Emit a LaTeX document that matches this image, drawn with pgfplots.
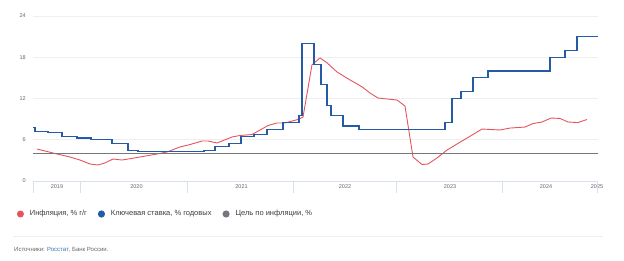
\documentclass[border=0pt]{standalone}
\usepackage{pgfplots}
\pgfplotsset{compat=1.18}
\usepackage{fontspec}
\setmainfont{Liberation Sans}
\definecolor{infl}{RGB}{229,84,93}
\definecolor{inflleg}{RGB}{226,52,63}
\definecolor{keyr}{RGB}{36,90,166}
\definecolor{tgt}{RGB}{116,119,126}
\definecolor{gridc}{RGB}{238,239,242}
\definecolor{sepc}{RGB}{214,224,238}
\definecolor{lblc}{RGB}{102,102,102}
\definecolor{txtc}{RGB}{60,60,60}
\definecolor{linkc}{RGB}{52,116,180}
\begin{document}
\begin{tikzpicture}[x=1pt,y=1pt]
\path (0,0) rectangle (624,260);
\begin{axis}[
  at={(33pt,79pt)}, anchor=south west,
  scale only axis, width=565pt, height=165pt,
  xmin=33, xmax=598, ymin=0, ymax=24,
  axis line style={draw=none},
  major tick length=0pt,
  ytick={0,6,12,18,24},
  yticklabel style={font=\fontsize{5.5}{6}\selectfont, color=lblc, inner sep=0pt, xshift=-7pt},
  /pgf/number format/assume math mode=true,
  xtick={57,136.5,241.5,345,450,546,597},
  xticklabels={2019,2020,2021,2022,2023,2024,2025},
  xticklabel style={font=\fontsize{5.5}{6}\selectfont, color=lblc, inner sep=0pt, yshift=-3pt},
  ymajorgrids, grid style={gridc, line width=0.8pt},
  clip=false,
  legend columns=3,
  legend cell align=left,
  legend style={at={(-0.02832,-0.2)}, anchor=west, draw=none, fill=none,
    inner sep=0pt, outer sep=0pt,
    font=\fontsize{7.5}{8.5}\selectfont, text=txtc,
    nodes={inner sep=0pt},
    /tikz/every odd column/.append style={column sep=6pt},
    /tikz/every even column/.append style={column sep=11pt}},
  legend image code/.code={\fill[#1] (3pt,0pt) circle (3pt);},
]
% bottom axis line and year separators
\draw[sepc, line width=0.8pt] (axis cs:33,0) -- (axis cs:598,0);
\pgfplotsinvokeforeach{33,80,187,293,396,502,597}{
  \draw[sepc, line width=0.7pt] (axis cs:#1,0) -- ++(0pt,-12pt);
}
\addplot[infl, line width=0.9pt, line join=round] coordinates {
(37,4.65)(57,3.93)(70,3.49)(80,3.05)(90,2.47)(98,2.33)(105,2.62)(113,3.2)(122,3.05)
(140,3.49)(157,3.93)(167,4.22)(180,4.95)(190,5.3)(202,5.82)(208,5.82)(217,5.53)
(232,6.4)(240,6.62)(252,6.76)(268,8.07)(277,8.44)(285,8.44)(298,8.95)(303,9.3)
(312,16.9)(320,17.9)(327,17.2)(337,15.85)(350,14.7)(362,13.7)(370,12.8)(378,12.07)
(387,11.93)(397,11.78)(405,10.9)(413,3.49)(422,2.4)(428,2.47)(437,3.35)(447,4.5)
(457,5.38)(467,6.25)(482,7.56)(500,7.42)(510,7.7)(525,7.85)(533,8.36)(542,8.58)
(551,9.16)(560,9.1)(568,8.58)(578,8.5)(587,8.95)
};
\addlegendentry{Инфляция, \% г/г}
\addplot[keyr, line width=1.1pt, const plot, line join=miter] coordinates {
(33,7.75)(35,7.25)(48,7.0)(62,6.5)(77,6.25)(91,6.0)(112,5.5)(128,4.5)(138,4.25)
(204,4.5)(215,5.0)(229,5.5)(241,6.5)(254,6.75)(267,7.5)(283,8.5)(299,9.5)(302,20)
(314,17)(321,14)(327,11)(331,9.5)(343,8)(359,7.5)(445,8.5)(452,12)(461,13)(473,15)
(488,16)(550,18)(565,19)(577,21)(598,21)
};
\addlegendentry{Ключевая ставка, \% годовых}
\addplot[tgt, line width=1.1pt] coordinates {(33,4)(598,4)};
\addlegendentry{Цель по инфляции, \%}
\end{axis}
\draw[gridc, line width=0.7pt] (13,23.3) -- (603,23.3);
\node[anchor=west, inner sep=0pt, font=\fontsize{6}{7}\selectfont, text=lblc] at (14,10)
  {Источники: \textcolor{linkc}{Росстат}, Банк России.};
\end{tikzpicture}
\end{document}
